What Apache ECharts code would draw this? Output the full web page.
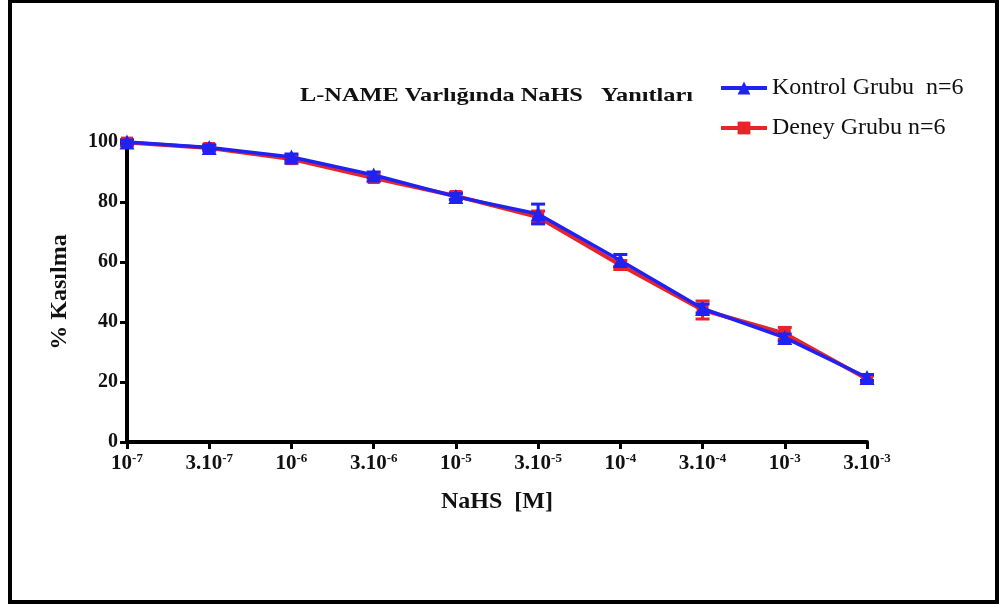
<!DOCTYPE html>
<html>
<head>
<meta charset="utf-8">
<script src="https://cdn.jsdelivr.net/npm/echarts@6/dist/echarts.min.js"></script>
<style>
  html, body { margin: 0; padding: 0; background: #fff; }
  #chart { width: 999px; height: 605px; }
</style>
</head>
<body>
<div id="chart"></div>
<script>
// NaHS concentrations (M), shown as 10^n / 3.10^n
const doseBase = ['10', '3.10', '10', '3.10', '10', '3.10', '10', '3.10', '10', '3.10'];
const doseExp  = ['-7', '-7', '-6', '-6', '-5', '-5', '-4', '-4', '-3', '-3'];

// % contraction, mean and SEM (n=6)
const kontrolMean = [100, 98.2, 95, 89, 81.8, 76, 60.5, 44.5, 34.8, 21.5];
const kontrolSem  = [0.6, 0.8, 1.0, 1.0, 1.0, 3.3, 2.0, 1.5, 1.2, 1.0];
const deneyMean   = [99.8, 98, 94.3, 88, 82, 75, 59, 44, 36.2, 21];
const deneySem    = [1.0, 1.0, 1.0, 1.0, 1.2, 2.0, 1.5, 3.0, 2.0, 1.0];

const yTicks = [0, 20, 40, 60, 80, 100];

const BLUE = '#1f22f5';
const RED = '#e8232a';
const SERIF = '"Liberation Serif", "DejaVu Serif", serif';

const chart = echarts.init(document.getElementById('chart'));

function pairs(mean) {
  return mean.map((v, i) => [i, v]);
}
function errData(mean, sem) {
  return mean.map((v, i) => [i, v - sem[i], v + sem[i]]);
}
function errorBars(color) {
  return function (params, api) {
    const x = api.value(0);
    const lo = api.coord([x, api.value(1)]);
    const hi = api.coord([x, api.value(2)]);
    const w = 7;
    const style = { stroke: color, lineWidth: 3 };
    return {
      type: 'group',
      children: [
        { type: 'line', shape: { x1: lo[0], y1: lo[1], x2: hi[0], y2: hi[1] }, style },
        { type: 'line', shape: { x1: lo[0] - w, y1: lo[1], x2: lo[0] + w, y2: lo[1] }, style },
        { type: 'line', shape: { x1: hi[0] - w, y1: hi[1], x2: hi[0] + w, y2: hi[1] }, style }
      ]
    };
  };
}

const option = {
  backgroundColor: '#ffffff',
  animation: false,
  legend: {
    left: 714,
    top: 71,
    orient: 'vertical',
    itemGap: 16,
    itemWidth: 46,
    itemHeight: 16,
    lineStyle: { width: 4 },
    textStyle: { fontFamily: SERIF, fontSize: 24, color: '#111' },
    data: ['Kontrol Grubu  n=6', 'Deney Grubu n=6']
  },
  grid: { left: 127, top: 142, width: 740, height: 300, containLabel: false },
  xAxis: {
    type: 'value',
    min: 0,
    max: 9,
    interval: 1,
    name: 'NaHS  [M]',
    nameLocation: 'middle',
    nameGap: 48,
    nameTextStyle: { fontFamily: SERIF, fontWeight: 'bold', fontSize: 24, color: '#111' },
    axisLine: { show: true, lineStyle: { color: '#000', width: 4 } },
    axisTick: { show: true, length: 7, lineStyle: { color: '#000', width: 3 } },
    splitLine: { show: false },
    axisLabel: {
      margin: 10,
      formatter: function (v) {
        const i = Math.round(v);
        return '{b|' + doseBase[i] + '}{s|' + doseExp[i] + '}';
      },
      rich: {
        b: { fontFamily: SERIF, fontWeight: 'bold', fontSize: 21, color: '#111', verticalAlign: 'bottom', lineHeight: 22 },
        s: { fontFamily: SERIF, fontWeight: 'bold', fontSize: 13, color: '#111', verticalAlign: 'top', lineHeight: 22, padding: [0, 0, 9, 0] }
      }
    }
  },
  yAxis: {
    type: 'value',
    min: 0,
    max: 100,
    interval: 20,
    name: '% Kasılma',
    nameLocation: 'middle',
    nameGap: 55,
    nameRotate: 90,
    nameTextStyle: { fontFamily: SERIF, fontWeight: 'bold', fontSize: 24, color: '#111' },
    axisLine: { show: true, lineStyle: { color: '#000', width: 4 } },
    axisTick: { show: true, length: 7, lineStyle: { color: '#000', width: 3 } },
    splitLine: { show: false },
    axisLabel: {
      margin: 9,
      fontFamily: SERIF,
      fontWeight: 'bold',
      fontSize: 20,
      color: '#111',
      formatter: function (v) { return yTicks.indexOf(v) >= 0 ? String(v) : ''; }
    }
  },
  series: [
    {
      name: 'Deney Grubu n=6',
      type: 'line',
      data: pairs(deneyMean),
      symbol: 'rect',
      symbolSize: 12,
      itemStyle: { color: RED },
      lineStyle: { color: RED, width: 4 },
      z: 2
    },
    {
      type: 'custom',
      name: 'Deney Grubu n=6',
      data: errData(deneyMean, deneySem),
      renderItem: errorBars(RED),
      encode: { x: 0, y: [1, 2] },
      z: 2
    },
    {
      name: 'Kontrol Grubu  n=6',
      type: 'line',
      data: pairs(kontrolMean),
      symbol: 'triangle',
      symbolSize: 15,
      itemStyle: { color: BLUE },
      lineStyle: { color: BLUE, width: 3.5 },
      z: 3
    },
    {
      type: 'custom',
      name: 'Kontrol Grubu  n=6',
      data: errData(kontrolMean, kontrolSem),
      renderItem: errorBars(BLUE),
      encode: { x: 0, y: [1, 2] },
      z: 3
    }
  ],
  graphic: [
    {
      // chart title, set wide in a bold serif
      type: 'group',
      x: 300,
      y: 96,
      scaleX: 1.28,
      children: [
        {
          type: 'text',
          x: 0,
          y: 0,
          style: {
            text: 'L-NAME Varlığında NaHS   Yanıtları',
            font: 'bold 19px "Liberation Serif", serif',
            fill: '#111',
            align: 'left',
            verticalAlign: 'middle'
          }
        }
      ]
    },
    {
      // page frame
      type: 'rect',
      shape: { x: 10, y: 1, width: 987, height: 601 },
      style: { fill: 'none', stroke: '#000', lineWidth: 4 },
      silent: true,
      z: 100
    }
  ]
};

chart.setOption(option);
</script>
</body>
</html>
